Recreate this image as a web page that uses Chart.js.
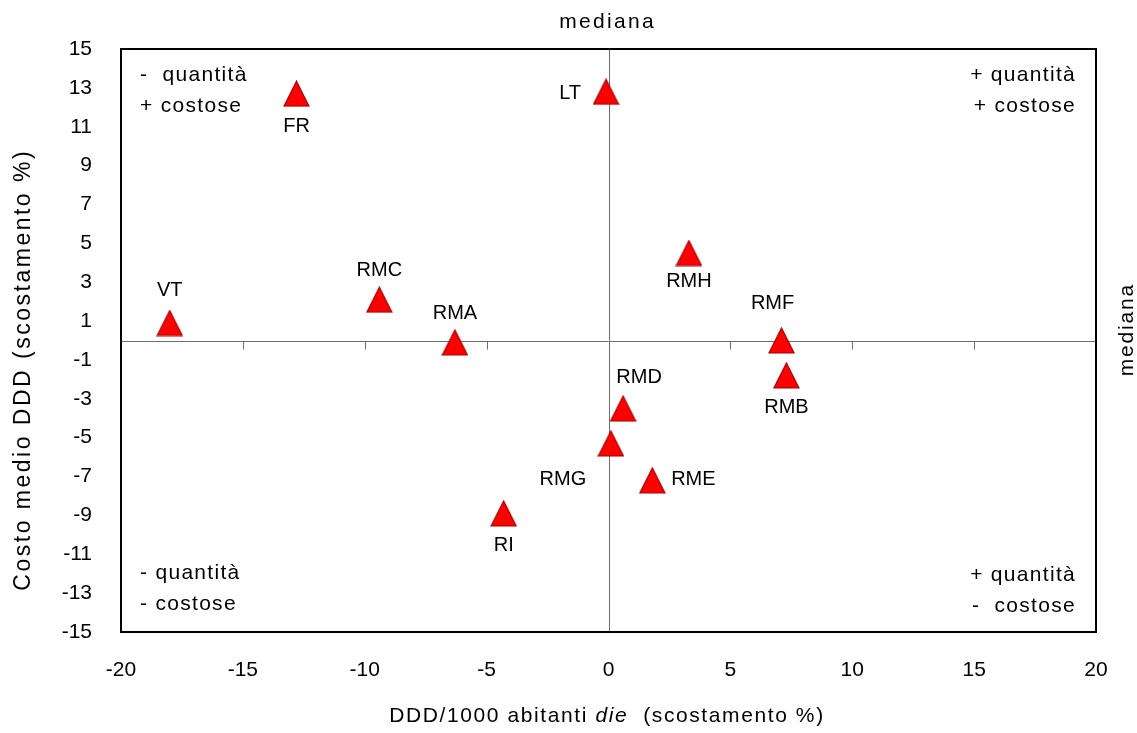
<!DOCTYPE html>
<html>
<head>
<meta charset="utf-8">
<script src="https://cdn.jsdelivr.net/npm/chart.js@4.4.1/dist/chart.umd.min.js"></script>
<style>
  html, body { margin: 0; padding: 0; background: #ffffff; }
  #wrap { width: 1137px; height: 733px; }
</style>
</head>
<body>
<div id="wrap"><canvas id="chart"></canvas></div>
<script>
// Areas and their deviation from the median (%)
const areas = ['VT', 'FR', 'LT', 'RMC', 'RMA', 'RMH', 'RMF', 'RMB', 'RMD', 'RMG', 'RME', 'RI'];
const dddDeviation  = [-18.0, -12.8, -0.1, -9.4, -6.3, 3.3, 7.1, 7.3, 0.6, 0.1, 1.8, -4.3];
const costDeviation = [0.9, 12.7, 12.8, 2.1, -0.1, 4.5, 0.0, -1.8, -3.5, -5.3, -7.2, -8.9];

// Axis ticks
const xTicks = [-20, -15, -10, -5, 0, 5, 10, 15, 20];
const yTicks = [-15, -13, -11, -9, -7, -5, -3, -1, 1, 3, 5, 7, 9, 11, 13, 15];

// Median reference lines
const medianDdd = 0;
const medianCost = 0;

// Quadrant captions
const quadrantTopLeft     = ['-  quantità', '+ costose'];
const quadrantTopRight    = ['+ quantità', '+ costose'];
const quadrantBottomLeft  = ['- quantità', '- costose'];
const quadrantBottomRight = ['+ quantità', '-  costose'];

// Where each area label sits relative to its marker (px)
const labelOffset = {
  VT: [0, -33], FR: [0, 33], LT: [-36, 2], RMC: [0, -29], RMA: [0, -29],
  RMH: [0, 28], RMF: [-9, -37], RMB: [0, 32], RMD: [16, -31],
  RMG: [-48, 36], RME: [41, -1], RI: [0, 32]
};

const FONT = '"Liberation Sans", Arial, sans-serif';

function triangleMarker() {
  const s = 27;
  const c = document.createElement('canvas');
  c.width = s; c.height = s;
  const g = c.getContext('2d');
  g.beginPath();
  g.moveTo(s / 2, 1);
  g.lineTo(s - 1, s - 1);
  g.lineTo(1, s - 1);
  g.closePath();
  g.fillStyle = '#ff0000';
  g.fill();
  g.lineWidth = 1.2;
  g.strokeStyle = '#a00000';
  g.stroke();
  return c;
}

function spaced(ctx, px) {
  if ('letterSpacing' in ctx) ctx.letterSpacing = px + 'px';
}

// Centred text that ignores the trailing letter spacing
function centredText(ctx, text, x, y, spacing) {
  spaced(ctx, spacing);
  ctx.textAlign = 'left';
  const w = ctx.measureText(text).width - spacing;
  ctx.fillText(text, x - w / 2, y);
}

const decorations = {
  id: 'decorations',
  beforeDatasetsDraw(chart) {
    const { ctx, chartArea: a, scales: { x, y } } = chart;
    ctx.save();
    // median lines
    const mx = Math.round(x.getPixelForValue(medianDdd)) + 0.5;
    const my = Math.round(y.getPixelForValue(medianCost)) + 0.5;
    ctx.strokeStyle = '#6e6e6e';
    ctx.lineWidth = 1;
    ctx.beginPath();
    ctx.moveTo(mx, a.top); ctx.lineTo(mx, a.bottom);
    ctx.moveTo(a.left, my); ctx.lineTo(a.right, my);
    ctx.stroke();
    // tick marks on the horizontal median line
    ctx.beginPath();
    xTicks.forEach(v => {
      if (v === xTicks[0] || v === xTicks[xTicks.length - 1]) return;
      const px = Math.round(x.getPixelForValue(v)) + 0.5;
      ctx.moveTo(px, my); ctx.lineTo(px, my + 8);
    });
    ctx.stroke();
    ctx.restore();
  },
  afterDatasetsDraw(chart) {
    const { ctx, chartArea: a, scales: { x, y } } = chart;
    ctx.save();
    // plot frame
    ctx.strokeStyle = '#000000';
    ctx.lineWidth = 2;
    ctx.strokeRect(a.left, a.top, a.right - a.left, a.bottom - a.top);

    // area labels
    ctx.fillStyle = '#000000';
    ctx.font = '20px ' + FONT;
    ctx.textAlign = 'center';
    ctx.textBaseline = 'middle';
    areas.forEach((name, i) => {
      const px = x.getPixelForValue(dddDeviation[i]);
      const py = y.getPixelForValue(costDeviation[i]);
      const [dx, dy] = labelOffset[name];
      ctx.fillText(name, px + dx, py + dy);
    });

    // quadrant captions
    ctx.font = '21px ' + FONT;
    spaced(ctx, 1.3);
    ctx.textAlign = 'left';
    quadrantTopLeft.forEach((t, k) => ctx.fillText(t, a.left + 19, a.top + 26 + k * 31));
    quadrantBottomLeft.forEach((t, k) => ctx.fillText(t, a.left + 19, a.bottom - 59 + k * 31));
    ctx.textAlign = 'right';
    quadrantTopRight.forEach((t, k) => ctx.fillText(t, a.right - 20, a.top + 26 + k * 31));
    quadrantBottomRight.forEach((t, k) => ctx.fillText(t, a.right - 20, a.bottom - 57 + k * 31));

    // "mediana" captions
    centredText(ctx, 'mediana', x.getPixelForValue(medianDdd) - 2, 22, 2.3);
    ctx.save();
    ctx.translate(1127, y.getPixelForValue(medianCost) - 10);
    ctx.rotate(-Math.PI / 2);
    centredText(ctx, 'mediana', 0, 0, 1.8);
    ctx.restore();

    // y axis title
    ctx.save();
    ctx.font = '23px ' + FONT;
    ctx.translate(24, 371);
    ctx.rotate(-Math.PI / 2);
    centredText(ctx, 'Costo medio DDD (scostamento %)', 0, 0, 2.5);
    ctx.restore();

    // x axis title with italic "die"
    spaced(ctx, 1.6);
    const parts = [
      ['DDD/1000 abitanti ', 'normal'],
      ['die', 'italic'],
      ['  (scostamento %)', 'normal']
    ];
    let total = 0;
    const widths = parts.map(([t, st]) => {
      ctx.font = st + ' 21px ' + FONT;
      const w = ctx.measureText(t).width;
      total += w;
      return w;
    });
    let cx = 607 - total / 2;
    ctx.textAlign = 'left';
    parts.forEach(([t, st], k) => {
      ctx.font = st + ' 21px ' + FONT;
      ctx.fillText(t, cx, 716);
      cx += widths[k];
    });
    ctx.restore();
  }
};

new Chart(document.getElementById('chart'), {
  type: 'scatter',
  data: {
    datasets: [{
      data: areas.map((n, i) => ({ x: dddDeviation[i], y: costDeviation[i] })),
      pointStyle: triangleMarker(),
      pointRadius: 13,
      pointHoverRadius: 13
    }]
  },
  options: {
    responsive: true,
    maintainAspectRatio: false,
    animation: false,
    events: [],
    layout: { padding: { top: 49, right: 41, left: 0, bottom: 0 } },
    plugins: { legend: { display: false }, tooltip: { enabled: false } },
    scales: {
      x: {
        type: 'linear',
        min: xTicks[0],
        max: xTicks[xTicks.length - 1],
        afterBuildTicks: s => { s.ticks = xTicks.map(v => ({ value: v })); },
        afterFit: s => { s.height = 101; },
        grid: { display: false, drawTicks: false },
        border: { display: false },
        ticks: { color: '#000', font: { family: FONT, size: 21 }, padding: 26, maxRotation: 0 }
      },
      y: {
        type: 'linear',
        min: yTicks[0],
        max: yTicks[yTicks.length - 1],
        afterBuildTicks: s => { s.ticks = yTicks.map(v => ({ value: v })); },
        afterFit: s => { s.width = 121; },
        grid: { display: false, drawTicks: false },
        border: { display: false },
        ticks: { color: '#000', font: { family: FONT, size: 21 }, padding: 29 }
      }
    }
  },
  plugins: [decorations]
});
</script>
</body>
</html>
